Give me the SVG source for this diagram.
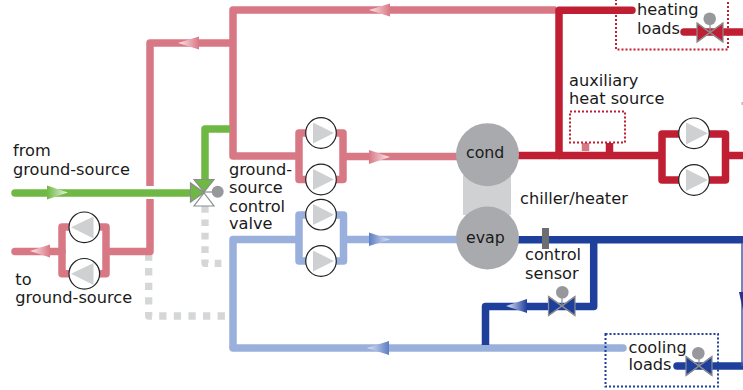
<svg xmlns="http://www.w3.org/2000/svg" width="743" height="390" viewBox="0 0 743 390">
<defs>
<linearGradient id="gp" x1="0" x2="1" y1="0" y2="0"><stop offset="0" stop-color="#fbeaec"/><stop offset="1" stop-color="#d97885"/></linearGradient>
<linearGradient id="gp2" x1="0" x2="1" y1="0" y2="0"><stop offset="0" stop-color="#d97885"/><stop offset="1" stop-color="#fbeaec"/></linearGradient>
<linearGradient id="gg" x1="0" x2="1" y1="0" y2="0"><stop offset="0" stop-color="#70b844"/><stop offset="1" stop-color="#e8f4e0"/></linearGradient>
<linearGradient id="gb" x1="0" x2="1" y1="0" y2="0"><stop offset="0" stop-color="#e4eaf6"/><stop offset="1" stop-color="#1f3f9c"/></linearGradient>
<linearGradient id="gl" x1="0" x2="1" y1="0" y2="0"><stop offset="0" stop-color="#5d7fc4"/><stop offset="1" stop-color="#dfe6f4"/></linearGradient>
<linearGradient id="gl2" x1="0" x2="1" y1="0" y2="0"><stop offset="0" stop-color="#dfe6f4"/><stop offset="1" stop-color="#5d7fc4"/></linearGradient>
</defs>
<style>
text{font-family:"DejaVu Sans","Liberation Sans",sans-serif;font-size:16.2px;fill:#1a1a1a}
.e{font-size:15.8px}
.p{fill:none;stroke-width:7.5;stroke-linejoin:round}
.c{stroke-linecap:round}
.pk{stroke:#d97885}.rd{stroke:#c01f33}.lb{stroke:#9ab0dc}.db{stroke:#1f3f9c}.gn{stroke:#70b844}
.gy{fill:none;stroke:#d5d6d8;stroke-width:7.3;stroke-linejoin:round}
.pc{fill:#fff;stroke:#222;stroke-width:1.2}.tri{fill:#cfd0d2}
.v{stroke:#8a8c90;stroke-width:1.2}
.k{fill:#97989c}
.d{fill:none;stroke-width:2;stroke-dasharray:2 2}
</style>
<g id="connectors">
<path class="gy" stroke-dasharray="7.3 7.3" d="M148.7 253.5V316H230"/>
<path class="gy" stroke-dasharray="6.7 6.7" d="M205 206V263.3H224"/>
<path class="p pk" d="M556 10H233V156H299M233 43H150V186M150 199V251.500H106"/>
<path class="p pk c" d="M62 251.500H15"/>
<path class="p pk" d="M343 156.500H458"/>
<path class="p gn" d="M230 129H205V182"/>
<path class="p gn c" d="M15 193H194"/>
<path class="p lb" d="M299 239.500H233V348"/>
<path class="p lb c" d="M233 348H623"/>
<path class="p lb" d="M343 239.500H458"/>
<path class="p rd" d="M515 155.500H662M725 155.500H743"/>
<path class="p rd c" d="M559 155.500V10.300H632"/>
<path class="p rd" d="M609.500 143V155"/>
<path class="p pk" d="M585.500 143V151"/>
<path class="p rd c" d="M684 32H743"/>
<path class="p db" d="M515 239.700H743M593.700 239.700V306.500H485.500V345"/>
<path class="p db c" d="M677 366H743"/>
<path fill="none" stroke="#3f5cb0" stroke-width="1.500" d="M742 243V366"/>
<polygon points="739,292 743,292 743,310" fill="#2a2f8f"/>
<rect x="741.500" y="102" width="1.500" height="3" fill="#e8a7af"/>
<path class="p pk" d="M299 133H343V179.500H299Z"/>
<path class="p lb" d="M299 215H343.500V261H299Z"/>
<path class="p pk" d="M62 227H106V273.700H62Z"/>
<path class="p rd" d="M662 134H725.500V180H662Z"/>
</g>
<g id="arrows">
<polygon points="369,10 390,3.500 390,16.500" fill="url(#gp)"/>
<polygon points="178,43 199,36.500 199,49.500" fill="url(#gp)"/>
<polygon points="47,185.500 47,199.500 68,192.500" fill="url(#gg)"/>
<polygon points="30,251 50,244.500 50,257.500" fill="url(#gp)"/>
<polygon points="369,150 369,164 390,157" fill="url(#gp2)"/>
<polygon points="369,232.500 369,246 390,239.500" fill="url(#gl)"/>
<polygon points="506,306 527,299 527,313" fill="url(#gb)"/>
<polygon points="367,348 389,341 389,355" fill="url(#gl2)"/>
</g>
<g id="chiller">
<rect x="463" y="175" width="48" height="40" fill="#d0d1d3"/>
<circle cx="487.500" cy="154.700" r="31.500" fill="#a9aaad"/>
<circle cx="487.500" cy="238" r="31.500" fill="#a9aaad"/>
<text class="e" x="466" y="158">cond</text>
<text class="e" x="466" y="243">evap</text>
<text x="520" y="204">chiller/heater</text>
</g>
<g id="pump-p1"><circle class="pc" cx="321" cy="133" r="15.300"/><polygon class="tri" points="313,122.500 313,143.500 334,133"/></g>
<g id="pump-p2"><circle class="pc" cx="321" cy="179.500" r="15.300"/><polygon class="tri" points="313,169 313,190 334,179.500"/></g>
<g id="pump-b1"><circle class="pc" cx="321" cy="214.700" r="15.300"/><polygon class="tri" points="313,204 313,225 334,214.700"/></g>
<g id="pump-b2"><circle class="pc" cx="321" cy="261" r="15.300"/><polygon class="tri" points="313,250.500 313,271.500 334,261"/></g>
<g id="pump-g1"><circle class="pc" cx="84.300" cy="227.300" r="15.300"/><polygon class="tri" points="93.500,216.500 93.500,238.500 71,227.300"/></g>
<g id="pump-g2"><circle class="pc" cx="84.300" cy="273.800" r="15.300"/><polygon class="tri" points="93.500,263 93.500,285 71,273.800"/></g>
<g id="pump-r1"><circle class="pc" cx="694" cy="133.300" r="15.300"/><polygon class="tri" points="686,122.500 686,144.500 708,133.300"/></g>
<g id="pump-r2"><circle class="pc" cx="694" cy="180" r="15.300"/><polygon class="tri" points="686,169 686,191 708,180"/></g>
<g id="valve-ground">
<polygon class="v" points="190.500,183 190.500,202 204,192.500" fill="#70b844"/>
<polygon class="v" points="194,179.500 214,179.500 204,192" fill="#70b844"/>
<polygon class="v" points="194,206 214,206 204,193" fill="#fff"/>
<line class="v" x1="204" y1="192" x2="214" y2="192"/>
<circle class="k" cx="217.700" cy="191.700" r="6"/>
</g>
<g id="valve-cool">
<polygon class="v" points="548.500,296.500 548.500,315.500 562,306 575,296.500 575,315.500 562,306" fill="#1f3f9c"/>
<path class="v" fill="none" d="M562 296V306M548.500 296.500L575 315.500M548.500 315.500L575 296.500"/>
<circle class="k" cx="562.300" cy="292.300" r="6.300"/>
</g>
<g id="valve-loadc">
<polygon class="v" points="686,356.500 686,375.500 699,366 712,356.500 712,375.500 699,366" fill="#1f3f9c"/>
<path class="v" fill="none" d="M699 356V366M686 356.500L712 375.500M686 375.500L712 356.500"/>
<circle class="k" cx="698.300" cy="353.300" r="6.300"/>
</g>
<g id="valve-loadh">
<polygon class="v" points="697,23 697,42 710,32.500 723,23 723,42 710,32.500" fill="#c01f33"/>
<path class="v" fill="none" d="M710 22V32M697 23L723 42M697 42L723 23"/>
<circle class="k" cx="709.700" cy="18.700" r="6.300"/>
</g>
<g id="sensor"><rect x="542" y="228" width="7" height="21" fill="#6d6e70"/></g>
<g id="aux"><rect x="570" y="111.500" width="55" height="31" class="d" stroke="#c01f33"/><text x="569" y="86">auxiliary</text><text x="569" y="104">heat source</text></g>
<g id="heating-loads"><rect x="616" y="-10" width="112" height="59.500" class="d" stroke="#c01f33"/><text x="637" y="15">heating</text><text x="637" y="34">loads</text></g>
<g id="cooling-loads"><rect x="605.500" y="334" width="112.500" height="52.500" class="d" stroke="#1f3f9c"/><text x="628.500" y="352.700">cooling</text><text x="628.500" y="370">loads</text></g>
<g id="labels">
<text x="13" y="156">from</text><text x="13" y="175">ground-source</text>
<text x="15.300" y="285">to</text><text x="15.300" y="302.700">ground-source</text>
<text x="229" y="175">ground-</text><text x="229" y="192.700">source</text><text x="229" y="211.700">control</text><text x="229" y="229.300">valve</text>
<text x="525" y="260">control</text><text x="525" y="279">sensor</text>
</g>
</svg>
